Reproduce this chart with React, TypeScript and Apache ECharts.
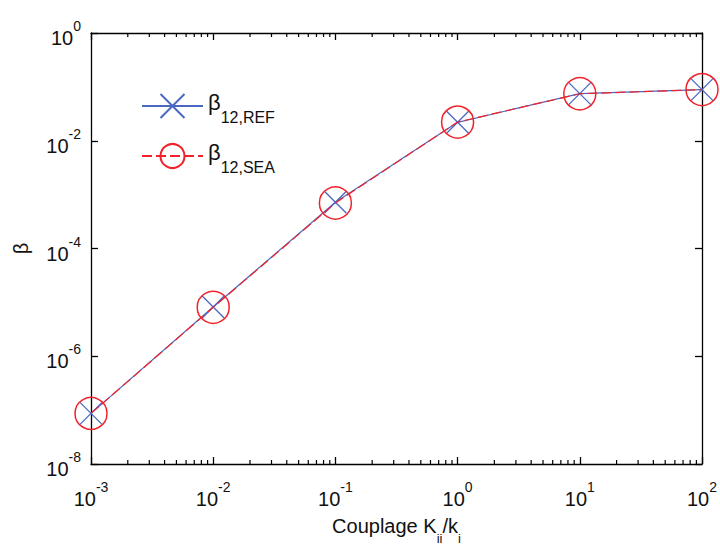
import React, { useEffect, useRef } from "react";
import * as echarts from "echarts";

const xValues = [1e-3, 1e-2, 1e-1, 1, 10, 100];
const refValues = [8.7e-8, 8.2e-6, 7.2e-4, 0.022, 0.075, 0.089];
const seaValues = [8.7e-8, 8.1e-6, 7.0e-4, 0.0222, 0.0745, 0.089];
const xRange = [1e-3, 1e2];
const yRange = [1e-8, 1e0];
const minorMultipliers = [2, 3, 4, 5, 6, 7, 8, 9];
const minorDecades = [1e-3, 1e-2, 1e-1, 1, 10];

const BLUE = "#4a68c2";
const RED = "#f0232b";
const FONT = "'Liberation Sans', Arial, sans-serif";

const expLabel = (v: number) => `{b|10}{e|${Math.round(Math.log10(v))}}`;
const labelRich = {
  b: { fontSize: 20, fontFamily: FONT, color: "#111", lineHeight: 30, verticalAlign: "bottom" },
  e: { fontSize: 14, fontFamily: FONT, color: "#111", lineHeight: 30, verticalAlign: "top", padding: [1, 0, 0, 0] },
};

export default function App() {
  const ref = useRef<HTMLDivElement>(null);
  useEffect(() => {
    if (!ref.current) return;
    const chart = echarts.init(ref.current, undefined, { renderer: "svg" });
    const minorTicks: number[][] = [];
    minorDecades.forEach((d) => minorMultipliers.forEach((m) => minorTicks.push([d * m, yRange[0]])));

    const axisCommon = {
      type: "log" as const,
      logBase: 10,
      axisLine: { show: true, lineStyle: { color: "#000", width: 1.3 } },
      axisTick: { show: true, inside: true, length: 7, lineStyle: { color: "#000", width: 1.3 } },
      splitLine: { show: false },
      minorTick: { show: false },
    };

    chart.setOption({
      animation: false,
      backgroundColor: "#fff",
      grid: { left: 91, right: 18, top: 33, bottom: 78, containLabel: false },
      xAxis: [
        {
          ...axisCommon,
          min: xRange[0],
          max: xRange[1],
          position: "bottom",
          axisLabel: { formatter: expLabel, margin: 15, rich: labelRich },
          name: "{n|Couplage K}{s|ii}{n|/k}{s|i}",
          nameLocation: "middle",
          nameGap: 52,
          nameTextStyle: {
            rich: {
              n: { fontSize: 20, fontFamily: FONT, color: "#111", lineHeight: 24, verticalAlign: "top" },
              s: { fontSize: 13, fontFamily: FONT, color: "#111", lineHeight: 24, verticalAlign: "bottom", padding: [0, 0, -5, 0] },
            },
          },
        },
        {
          ...axisCommon,
          min: xRange[0],
          max: xRange[1],
          position: "top",
          axisLabel: { show: false },
        },
      ],
      yAxis: [
        {
          ...axisCommon,
          min: yRange[0],
          max: yRange[1],
          interval: 2,
          position: "left",
          axisLabel: { formatter: expLabel, margin: 10, rich: labelRich },
          name: "β",
          nameLocation: "middle",
          nameGap: 60,
          nameRotate: 90,
          nameTextStyle: { fontSize: 20, fontFamily: FONT, color: "#111" },
        },
        {
          ...axisCommon,
          min: yRange[0],
          max: yRange[1],
          interval: 2,
          position: "right",
          axisLabel: { show: false },
        },
      ],
      legend: {
        data: ["REF", "SEA"],
        orient: "vertical",
        left: 136,
        top: 86,
        itemWidth: 61,
        itemHeight: 30,
        itemGap: 16,
        formatter: (name: string) => `{b|β}{s|12,${name}}`,
        textStyle: {
          rich: {
            b: { fontSize: 22, fontFamily: FONT, color: "#111", lineHeight: 30, verticalAlign: "top" },
            s: { fontSize: 16, fontFamily: FONT, color: "#111", lineHeight: 30, verticalAlign: "bottom", padding: [0, 0, -4, 0] },
          },
        },
      },
      series: [
        {
          type: "custom",
          name: "minor",
          silent: true,
          clip: false,
          xAxisIndex: 0,
          yAxisIndex: 0,
          data: minorTicks,
          renderItem: (params: any, api: any) => {
            const x = api.value(0);
            const b = api.coord([x, yRange[0]]);
            const t = api.coord([x, yRange[1]]);
            return {
              type: "group",
              children: [
                { type: "line", shape: { x1: b[0], y1: b[1], x2: b[0], y2: b[1] - 4 }, style: { stroke: "#000", lineWidth: 1.2 } },
                { type: "line", shape: { x1: t[0], y1: t[1], x2: t[0], y2: t[1] + 4 }, style: { stroke: "#000", lineWidth: 1.2 } },
              ],
            };
          },
        },
        {
          type: "line",
          name: "REF",
          clip: false,
          data: xValues.map((x, i) => [x, refValues[i]]),
          symbol: "path://M0,0L10,10M10,0L0,10",
          symbolSize: 22,
          showSymbol: true,
          lineStyle: { color: BLUE, width: 1.2 },
          itemStyle: { color: "none", borderColor: BLUE, borderWidth: 1.3 },
          z: 3,
        },
        {
          type: "line",
          name: "SEA",
          clip: false,
          data: xValues.map((x, i) => [x, seaValues[i]]),
          symbol: "circle",
          symbolSize: 32,
          showSymbol: true,
          lineStyle: { color: RED, width: 1.2, type: [10, 4] },
          itemStyle: { color: "none", borderColor: RED, borderWidth: 1.5 },
          z: 4,
        },
      ],
    });
    return () => chart.dispose();
  }, []);
  return <div ref={ref} style={{ position: "absolute", left: 0, top: 0, width: 720, height: 550 }} />;
}
